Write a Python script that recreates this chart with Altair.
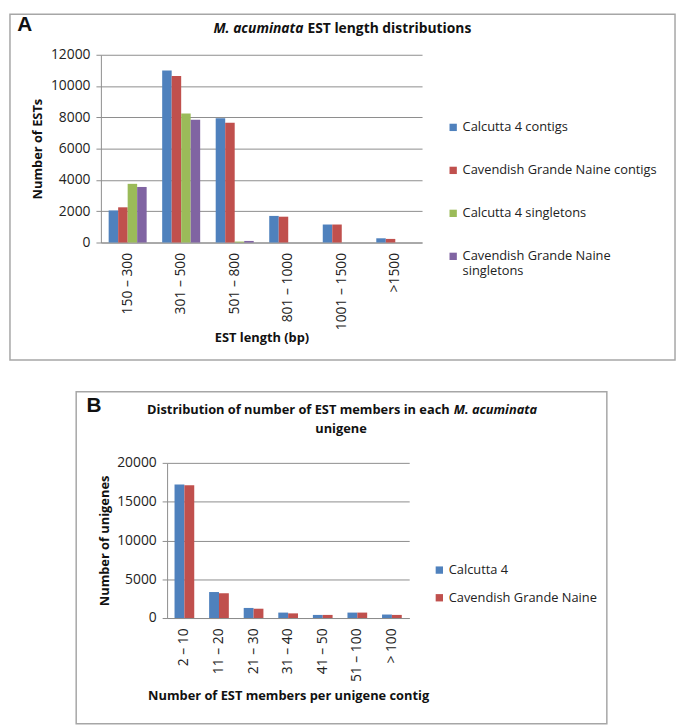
import altair as alt
import pandas as pd

# ---------------- Panel A data ----------------
cats_a = ["150 – 300", "301 – 500", "501 – 800", "801 – 1000", "1001 – 1500", ">1500"]
series_a = ["Calcutta 4 contigs", "Cavendish Grande Naine contigs",
            "Calcutta 4 singletons", "Cavendish Grande Naine singletons"]
c4_contigs = [2050, 11000, 7950, 1700, 1150, 270]
cgn_contigs = [2250, 10650, 7650, 1650, 1150, 230]
c4_singletons = [3750, 8250, 60, 0, 0, 0]
cgn_singletons = [3550, 7850, 100, 0, 0, 0]
colors_a = ["#4F81BD", "#C0504D", "#9BBB59", "#8064A2"]
ticks_a = [0, 2000, 4000, 6000, 8000, 10000, 12000]

# ---------------- Panel B data ----------------
cats_b = ["2 – 10", "11 – 20", "21 – 30", "31 – 40", "41 – 50", "51 – 100", "> 100"]
series_b = ["Calcutta 4", "Cavendish Grande Naine"]
c4_members = [17200, 3350, 1300, 700, 400, 700, 450]
cgn_members = [17100, 3200, 1200, 600, 400, 700, 400]
colors_b = ["#4F81BD", "#C0504D"]
ticks_b = [0, 5000, 10000, 15000, 20000]

GRID = "#8c8c8c"
BOX = "#a6a6a6"
FONT = "Open Sans"

rows_a = []
for s, vals in zip(series_a, [c4_contigs, cgn_contigs, c4_singletons, cgn_singletons]):
    for c, v in zip(cats_a, vals):
        rows_a.append({"cat": c, "series": s, "value": v})
df_a = pd.DataFrame(rows_a)

rows_b = []
for s, vals in zip(series_b, [c4_members, cgn_members]):
    for c, v in zip(cats_b, vals):
        rows_b.append({"cat": c, "series": s, "value": v})
df_b = pd.DataFrame(rows_b)


def one(text):
    return alt.Chart(pd.DataFrame({"t": [text]}))


# ---------------- Panel A ----------------
bars_a = alt.Chart(df_a).mark_bar().encode(
    x=alt.X("cat:N", sort=cats_a,
            scale=alt.Scale(paddingInner=0.29, paddingOuter=0.145),
            axis=alt.Axis(title="EST length (bp)", labelAngle=270, labelAlign="right",
                          labelBaseline="middle", ticks=False, labelPadding=10,
                          titlePadding=2, domainColor=GRID, grid=False)),
    xOffset=alt.XOffset("series:N", sort=series_a),
    y=alt.Y("value:Q", scale=alt.Scale(domain=[0, 12000]),
            axis=alt.Axis(values=ticks_a, format="d", title="Number of ESTs",
                          tickSize=5, tickColor=GRID, labelPadding=6, titlePadding=6,
                          domainColor=GRID, gridColor=GRID)),
    color=alt.Color("series:N", sort=series_a,
                    scale=alt.Scale(domain=series_a, range=colors_a),
                    legend=alt.Legend(title=None, orient="none", legendX=350, legendY=67,
                                      symbolType="square", symbolSize=55, symbolStrokeWidth=0,
                                      labelFontSize=13, labelLimit=300, rowPadding=29.5,
                                      labelOffset=3,
                                      labelExpr="datum.label == 'Cavendish Grande Naine singletons' ? ['Cavendish Grande Naine', 'singletons'] : datum.label")),
)

box_a = one("").mark_rect(fill="transparent", stroke=BOX, strokeWidth=1.5).encode(
    x=alt.value(-92), x2=alt.value(581), y=alt.value(-41), y2=alt.value(309))
label_a = one("A").mark_text(font="Liberation Sans", fontWeight="bold", fontSize=21,
                             align="center", baseline="middle").encode(
    text="t:N", x=alt.value(-77), y=alt.value(-30))
title_a1 = one("M. acuminata").mark_text(fontWeight="bold", fontStyle="italic", fontSize=14,
                                         align="right", baseline="middle").encode(
    text="t:N", x=alt.value(205), y=alt.value(-26))
title_a2 = one("EST length distributions").mark_text(fontWeight="bold", fontSize=14,
                                                     align="left", baseline="middle").encode(
    text="t:N", x=alt.value(209), y=alt.value(-26))

panel_a = alt.layer(box_a, bars_a, label_a, title_a1, title_a2).properties(width=325, height=190)

# ---------------- Panel B ----------------
bars_b = alt.Chart(df_b).mark_bar().encode(
    x=alt.X("cat:N", sort=cats_b,
            scale=alt.Scale(range=[67, 312], paddingInner=0.43, paddingOuter=0.215),
            axis=alt.Axis(title="Number of EST members per unigene contig", labelAngle=270,
                          labelAlign="right", labelBaseline="middle", ticks=False,
                          labelPadding=10, titlePadding=8, domainColor=GRID, grid=False)),
    xOffset=alt.XOffset("series:N", sort=series_b),
    y=alt.Y("value:Q", scale=alt.Scale(domain=[0, 20000]),
            axis=alt.Axis(values=ticks_b, format="d", title="Number of unigenes", offset=-67,
                          tickSize=5, tickColor=GRID, labelPadding=6, titlePadding=5,
                          domainColor=GRID, gridColor=GRID)),
    color=alt.Color("series:N", sort=series_b,
                    scale=alt.Scale(domain=series_b, range=colors_b),
                    legend=alt.Legend(title=None, orient="none", legendX=336, legendY=102,
                                      symbolType="square", symbolSize=55, symbolStrokeWidth=0,
                                      labelFontSize=13, labelLimit=300, rowPadding=14,
                                      labelOffset=3)),
)

box_b = one("").mark_rect(fill="transparent", stroke=BOX, strokeWidth=1.5).encode(
    x=alt.value(-25), x2=alt.value(512), y=alt.value(-72), y2=alt.value(264))
label_b = one("B").mark_text(font="Liberation Sans", fontWeight="bold", fontSize=21,
                             align="center", baseline="middle").encode(
    text="t:N", x=alt.value(-7), y=alt.value(-57))
title_b1 = one("Distribution of number of EST members in each").mark_text(
    fontWeight="bold", fontSize=13, align="right", baseline="middle").encode(
    text="t:N", x=alt.value(353), y=alt.value(-53))
title_b2 = one("M. acuminata").mark_text(
    fontWeight="bold", fontStyle="italic", fontSize=13, align="left", baseline="middle").encode(
    text="t:N", x=alt.value(357), y=alt.value(-53))
title_b3 = one("unigene").mark_text(
    fontWeight="bold", fontSize=13, align="center", baseline="middle").encode(
    text="t:N", x=alt.value(243), y=alt.value(-34))

panel_b = alt.layer(box_b, bars_b, label_b, title_b1, title_b2, title_b3).properties(width=312, height=157)

chart = alt.vconcat(panel_a, panel_b, spacing=28).resolve_scale(
    color="independent", xOffset="independent"
).resolve_legend(color="independent").properties(
    padding={"left": 0, "top": 0, "right": 0, "bottom": 0}
).configure(
    font=FONT
).configure_view(stroke="transparent").configure_axis(
    labelFont=FONT, labelFontSize=14, labelColor="#222222",
    titleFont=FONT, titleFontSize=13, titleFontWeight="bold", titleColor="#111111"
).configure_legend(labelFont=FONT, labelColor="#222222").configure_text(font=FONT, color="#111111")

chart.save("out.html", embed_options={"renderer": "svg", "actions": False})
